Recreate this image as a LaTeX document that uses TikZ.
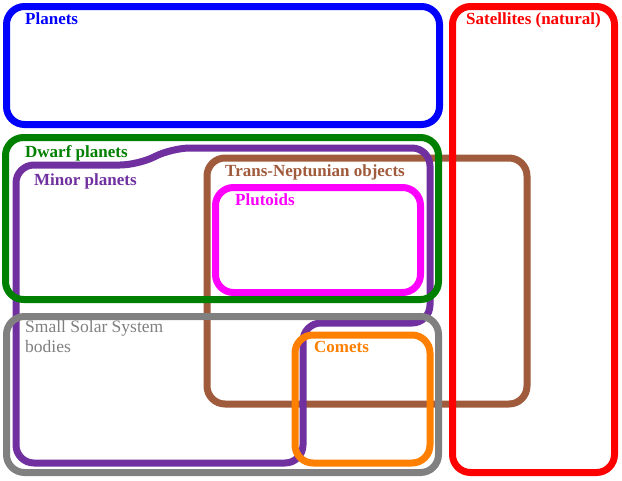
\documentclass[tikz,border=0pt]{standalone}
\usepackage{fontspec}
\setmainfont{Liberation Serif}
\definecolor{ssblue}{RGB}{0,0,255}
\definecolor{ssred}{RGB}{255,0,0}
\definecolor{ssgreen}{RGB}{0,128,0}
\definecolor{sspurple}{RGB}{112,48,160}
\definecolor{ssbrown}{RGB}{160,90,60}
\definecolor{ssmagenta}{RGB}{255,0,255}
\definecolor{ssgray}{RGB}{128,128,128}
\definecolor{ssorange}{RGB}{255,128,0}
\usepackage{tikz}

\begin{document}
\begin{tikzpicture}[x=1pt, y=-1pt,
  region/.style={line width=7pt, rounded corners=18pt},
  lbl/.style={anchor=base west, inner sep=0pt, font=\fontsize{17}{20}\selectfont\bfseries}]
\useasboundingbox (0,0) rectangle (622,480);
% Regions
\draw[region, ssbrown] (207,158) rectangle (527,404);
\draw[region, ssmagenta] (215.5,187.5) rectangle (420.5,292.5);
\draw[region, sspurple] (16,463) -- (16,165) -- (138,165) -- (172,148) -- (430,148)
  -- (430,323) -- (303,323) -- (303,463) -- cycle;
\draw[region, ssgreen] (5.5,137.5) rectangle (438.5,299.5);
\draw[region, ssgray] (6.5,316.5) rectangle (438.5,472.5);
\draw[region, ssorange] (295,335) rectangle (430,463);
\draw[region, ssblue] (6.5,6.5) rectangle (439.5,124.5);
\draw[region, ssred] (452.5,6.5) rectangle (614.5,472.5);

% Labels
\node[lbl, ssblue] (planets) at (25,24) {Planets};
\node[lbl, ssred] (sats) at (466,24) {Satellites (natural)};
\node[lbl, ssgreen] (dwarf) at (25,157) {Dwarf planets};
\node[lbl, sspurple] (minor) at (34,185) {Minor planets};
\node[lbl, ssbrown] (tno) at (225,176) {Trans-Neptunian objects};
\node[lbl, ssmagenta] (plutoids) at (235,205) {Plutoids};
\node[lbl, ssgray, font=\fontsize{17.5}{19.5}\selectfont, align=left] (sssb) at (25,352) {Small Solar System\\bodies};
\node[lbl, ssorange] (comets) at (314,352) {Comets};
\end{tikzpicture}
\end{document}
